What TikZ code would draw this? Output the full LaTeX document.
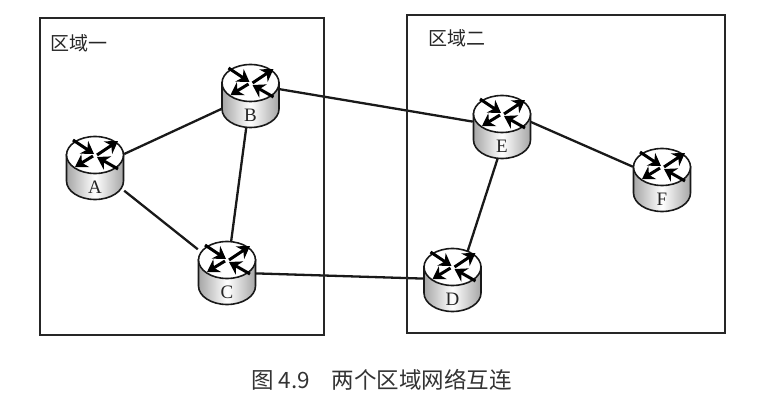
\documentclass[tikz,border=0pt]{standalone}
\usepackage{fontspec}
\setmainfont{Liberation Serif}
\newfontfamily\cjkfont{Noto Sans CJK SC}
\usetikzlibrary{arrows.meta}
\pgfdeclarelayer{linklayer}
\pgfsetlayers{linklayer,main}
\tikzset{
  x=1pt,y=-1pt,
  areabox/.style={draw=black!85,line width=1.5pt},
  link/.style={draw=black!90,line width=2.3pt},
  routeranchor/.style={inner sep=0pt,minimum width=58pt,minimum height=62pt},
  routerline/.style={draw=black!90,line width=1.6pt},
  routerlabel/.style={inner sep=0pt,font=\fontsize{19}{19}\selectfont,text=black!85},
  routerarrow/.style={line width=3pt,black,-{Stealth[length=12pt,width=15pt]}},
  arealabel/.style={inner sep=0pt,font=\cjkfont\fontsize{19}{19}\selectfont,text=black!85},
  captionlabel/.style={inner sep=0pt,font=\cjkfont\fontsize{22.5}{24}\selectfont,text=black!80},
}
\newcommand{\routerat}[3]{%
  \begin{scope}[shift={(#2,#3)}]
    \path[routerline,left color=black!35,right color=black!35,middle color=white]
      (-28.5,0) -- (-28.5,26) arc[start angle=180,end angle=360,x radius=28.5,y radius=-18.5]
      -- (28.5,0) -- cycle;
    \draw[routerline,fill=white] (0,0) ellipse[x radius=28.5,y radius=18.5];
    \draw[routerarrow] (2,0) -- (23,-14);
    \draw[routerarrow] (-2,1) -- (-20,12);
    \draw[routerarrow] (-22,-15) -- (-1,-1);
    \draw[routerarrow] (23,14) -- (2,2);
    \node[routeranchor] (#1) at (0,12.5) {};
    \node[routerlabel] (#1-label) at (0,32) {#1};
  \end{scope}}
\begin{document}
\begin{tikzpicture}
  \useasboundingbox (0,0) rectangle (766,414);
  \node[areabox,minimum width=284pt,minimum height=317pt,inner sep=0pt] (areaone) at (182,176.5) {};
  \node[areabox,minimum width=318pt,minimum height=318pt,inner sep=0pt] (areatwo) at (566,174) {};
  \node[arealabel] (areaonelabel) at (79,43) {区域一};
  \node[arealabel] (areatwolabel) at (457,38) {区域二};
  \routerat{A}{95}{155}
  \routerat{B}{250.5}{83}
  \routerat{C}{227}{260}
  \routerat{D}{452.5}{267}
  \routerat{E}{502}{114}
  \routerat{F}{662}{167}
  \begin{pgfonlayer}{linklayer}
    \draw[link] (A) -- (B);
    \draw[link] (A) -- (C);
    \draw[link] (B) -- (C);
    \draw[link] (C) -- (D);
    \draw[link] (B.north) ++(0,20) -- (E);
    \draw[link] ([xshift=6pt]E.center) -- ([xshift=6pt]D.center);
    \draw[link] (E.north) ++(0,14) -- (F);
  \end{pgfonlayer}
  \node[captionlabel] (caption) at (381.5,380) {图 4.9\hspace{22pt}两个区域网络互连};
\end{tikzpicture}
\end{document}
